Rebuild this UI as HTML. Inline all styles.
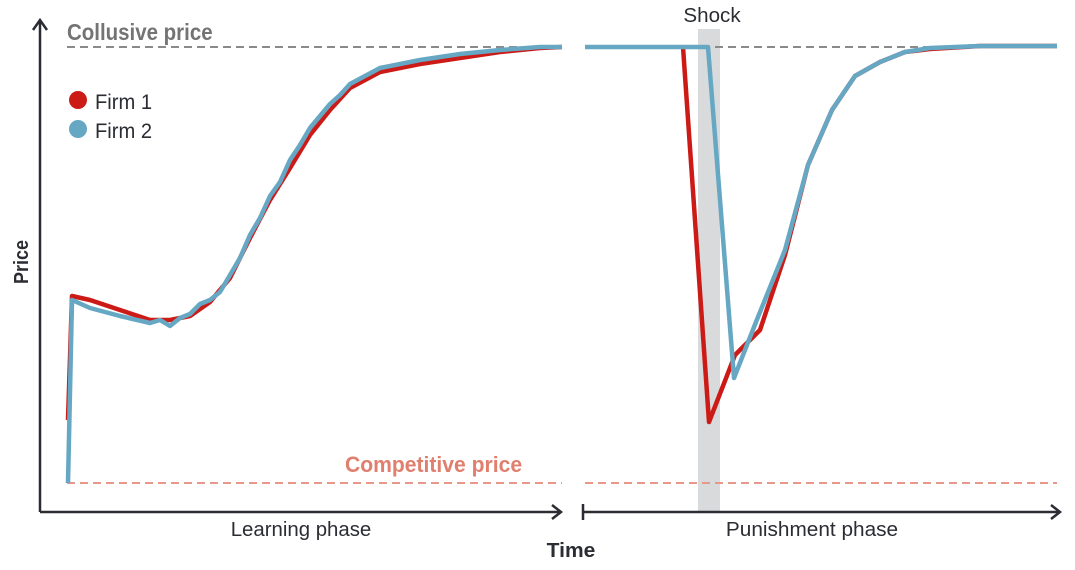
<!DOCTYPE html>
<html><head><style>body{margin:0;background:#fff}svg{display:block}text{font-family:"Liberation Sans",sans-serif}</style></head><body>
<svg width="1075" height="570" viewBox="0 0 1075 570" xmlns="http://www.w3.org/2000/svg">
<rect x="698" y="29" width="22" height="483" fill="#d9dadb"/>
<line x1="67" y1="47" x2="562" y2="47" stroke="#8a8a8a" stroke-width="2" stroke-dasharray="8,5"/>
<line x1="585" y1="47" x2="1057" y2="47" stroke="#8a8a8a" stroke-width="2" stroke-dasharray="8,5"/>
<line x1="67" y1="483" x2="562" y2="483" stroke="#e8988a" stroke-width="2" stroke-dasharray="8,5"/>
<line x1="585" y1="483" x2="1057" y2="483" stroke="#e8988a" stroke-width="2" stroke-dasharray="8,5"/>
<path d="M40,512V22M33,30L40,20L47,30" fill="none" stroke="#2b2d33" stroke-width="2.5"/>
<path d="M40,512H560M552,505L561,512L552,519" fill="none" stroke="#2b2d33" stroke-width="2.5"/>
<path d="M583,504V520M583,512H1058M1051,505L1060,512L1051,519" fill="none" stroke="#2b2d33" stroke-width="2.5"/>
<g fill="none" stroke-width="4.5" stroke-linejoin="round">
<path d="M68,420L72,296L90,300L120,310L150,320L170,320L190,316L210,302L230,278L250,238L270,200L290,168L310,135L330,110L350,88L380,72L420,64L460,58L500,52L540,48L562,47" stroke="#cc1b17"/>
<path d="M68,483L72,300L90,308L120,316L150,323L160,320L170,326L180,318L190,314L200,304L210,300L220,292L230,275L240,258L250,235L260,218L270,196L280,182L290,160L300,145L310,128L320,116L330,104L340,95L350,84L365,76L380,68L420,60L460,54L500,50L540,47L562,47" stroke="#66a8c4"/>
<path d="M683,47L709,422L735,355L760,330L785,255L808,165L832,110L855,76L880,62L905,52L930,49L980,46L1057,46" stroke="#cc1b17"/>
<path d="M585,47L708,47L734,378L756,322L785,250L808,165L832,110L855,76L880,62L905,52L930,48L980,46L1057,46" stroke="#66a8c4"/>
</g>
<text x="67" y="40" font-size="23" font-weight="bold" fill="#747474" transform="translate(67,0) scale(0.89,1) translate(-67,0)">Collusive price</text>
<text x="345" y="472" font-size="22" font-weight="bold" fill="#e07f6e" transform="translate(345,0) scale(0.96,1) translate(-345,0)">Competitive price</text>
<circle cx="78" cy="100" r="9" fill="#cc1b17"/>
<circle cx="78" cy="129" r="9" fill="#66a8c4"/>
<text x="95" y="109" font-size="21" fill="#2b2d33" transform="translate(95,0) scale(0.96,1) translate(-95,0)">Firm 1</text>
<text x="95" y="138" font-size="21" fill="#2b2d33" transform="translate(95,0) scale(0.96,1) translate(-95,0)">Firm 2</text>
<text x="712" y="22" font-size="20" fill="#2b2d33" text-anchor="middle" transform="translate(712,0) scale(1.03,1) translate(-712,0)">Shock</text>
<text x="301" y="536" font-size="20" fill="#2b2d33" text-anchor="middle" transform="translate(301,0) scale(1.02,1) translate(-301,0)">Learning phase</text>
<text x="812" y="536" font-size="20" fill="#2b2d33" text-anchor="middle" transform="translate(812,0) scale(1.04,1) translate(-812,0)">Punishment phase</text>
<text x="571" y="557" font-size="20" font-weight="bold" fill="#2b2d33" text-anchor="middle" transform="translate(571,0) scale(1.05,1) translate(-571,0)">Time</text>
<text transform="translate(28,262) rotate(-90) scale(0.9,1)" font-size="20" font-weight="bold" fill="#2b2d33" text-anchor="middle">Price</text>
</svg>
</body></html>
